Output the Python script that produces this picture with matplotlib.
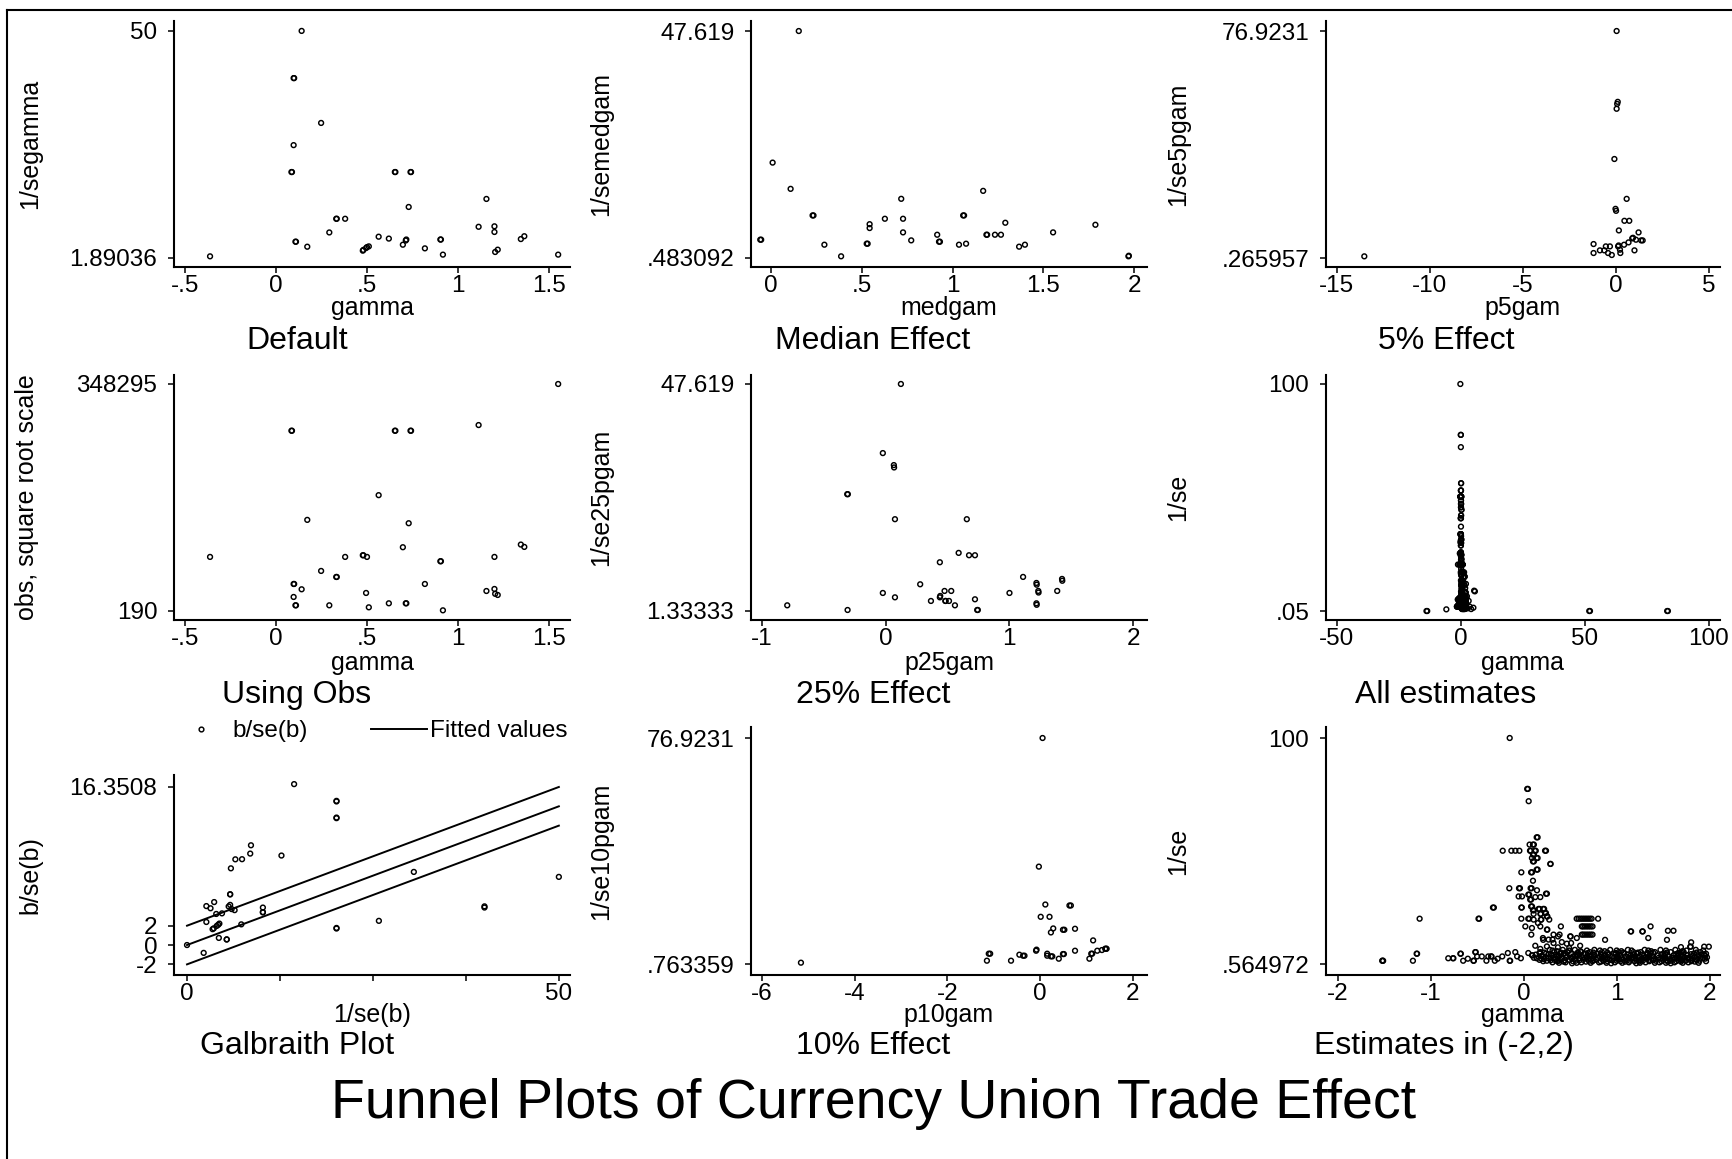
import numpy as np
import matplotlib
matplotlib.use('Agg')
import matplotlib.pyplot as plt
from matplotlib.lines import Line2D

plt.rcParams['font.family'] = ['Liberation Sans', 'DejaVu Sans']

W, H = 1732, 1159  # output size in pixels (dpi 100)

# ---- 43 estimates used by "Default", "Using Obs" and "Galbraith Plot" ----
gamma = [-0.362, 0.141, 0.097, 0.100, 0.248, 0.097, 0.085, 0.088, 0.653, 0.656,
         0.739, 0.742, 0.729, 1.156, 0.331, 0.334, 0.380, 0.293, 0.107, 0.110,
         0.172, 0.477, 0.480, 0.500, 0.510, 0.495, 0.564, 0.620, 0.697, 0.713,
         0.716, 0.818, 0.903, 0.906, 0.917, 1.113, 1.200, 1.200, 1.204, 1.218,
         1.345, 1.364, 1.550]
inv_segamma = [2.24, 50.0, 40.0, 40.0, 30.5, 25.8, 20.1, 20.1, 20.1, 20.1,
               20.1, 20.1, 12.7, 14.4, 10.2, 10.2, 10.2, 7.3, 5.34, 5.34,
               4.28, 3.44, 3.60, 4.20, 4.35, 4.00, 6.4, 6.0, 4.7, 5.6,
               5.8, 3.93, 5.8, 5.8, 2.6, 8.5, 8.6, 7.4, 3.16, 3.65,
               5.9, 6.5, 2.6]
obs = [22830, 4750, 6790, 6790, 13340, 2440, 222300, 222300, 222300, 222300,
       222300, 222300, 56000, 4170, 10040, 10040, 22830, 795, 795, 795,
       60100, 24120, 24120, 22830, 534, 3550, 94800, 1110, 30870, 1110,
       1110, 6790, 19630, 19630, 240, 236100, 22830, 4860, 3300, 2970,
       33300, 31150, 348295]

# Galbraith: extra point at the origin and the fitted line with +/-2 band
gal_extra_x = [0.0]
gal_extra_y = [0.0]
fit_x = [0, 50]
fit_mid = [0, 14.3508]
fit_hi = [2, 16.3508]
fit_lo = [-2, 12.3508]

# ---- Median effect ----
medgam = [-0.059, -0.054, 0.009, 0.153, 0.108, 0.229, 0.234, 0.294, 0.386, 0.527,
          0.532, 0.543, 0.543, 0.627, 0.717, 0.727, 0.727, 0.772, 0.915, 0.925,
          0.930, 1.035, 1.058, 1.063, 1.074, 1.168, 1.186, 1.190, 1.233, 1.266,
          1.290, 1.366, 1.398, 1.553, 1.786, 1.968, 1.970]
inv_semedgam = [4.28, 4.28, 20.29, 47.619, 14.84, 9.32, 9.32, 3.24, 0.83, 3.45,
                3.45, 6.7, 7.5, 8.63, 12.77, 8.63, 5.80, 4.14, 5.31, 3.86,
                3.86, 3.24, 9.32, 9.32, 3.45, 14.42, 5.31, 5.31, 5.31, 5.31,
                7.80, 2.83, 3.24, 5.80, 7.38, 0.83, 0.95]

# ---- 5% effect ----
p5gam = [-13.52, 0.05, 0.11, 0.08, 0.05, -0.07, 0.59, -0.01, 0.02, 0.47,
         0.73, 0.17, 1.23, 0.89, 0.93, 1.09, 1.37, 1.45, 0.69, 0.45,
         -1.19, -1.19, -0.85, -0.53, -0.31, -0.61, -0.41, -0.21, 0.13, 0.16,
         0.23, 0.25, 1.01]
inv_se5pgam = [0.83, 76.9231, 53.0, 52.3, 50.66, 33.7, 20.24, 16.87, 16.2, 12.83,
               12.83, 9.58, 8.91, 6.89, 7.1, 6.44, 6.21, 6.21, 5.54, 4.75,
               4.98, 1.95, 2.85, 4.19, 4.19, 2.85, 1.95, 1.28, 4.19, 4.5,
               3.07, 1.95, 2.85]

# ---- 25% effect ----
p25gam = [-0.796, -0.308, -0.311, -0.306, -0.023, 0.066, 0.068, 0.123, 0.075, 0.656,
          0.590, 0.674, 0.722, 0.438, 0.279, -0.023, 0.075, 0.366, 0.438, 0.441,
          0.476, 0.530, 0.482, 0.485, 0.512, 0.560, 0.722, 0.740, 0.745, 1.001,
          1.111, 1.219, 1.221, 1.234, 1.236, 1.219, 1.221, 1.387, 1.426, 1.428]
inv_se25pgam = [2.49, 1.54, 25.15, 25.15, 33.53, 31.08, 30.6, 47.619, 20.05, 20.05,
                13.18, 12.70, 12.70, 11.27, 6.78, 5.01, 4.12, 3.38, 4.12, 4.4,
                5.42, 5.42, 3.38, 3.38, 3.38, 2.49, 3.72, 1.54, 1.54, 5.01,
                8.28, 7.05, 6.7, 5.42, 5.1, 2.90, 2.6, 5.42, 7.87, 7.5]

# ---- 10% effect ----
p10gam = [-5.16, 0.05, -0.03, 0.11, 0.63, 0.66, 0.01, 0.20, 0.28, 0.23,
          0.49, 0.52, 0.75, 1.14, -1.15, -1.11, -1.08, -0.63, -0.45, -0.37,
          -0.34, -0.09, -0.08, 0.15, 0.15, 0.23, 0.26, 0.40, 0.49, 0.51,
          0.75, 1.06, 1.10, 1.12, 1.23, 1.33, 1.40, 1.42, 1.43]
inv_se10pgam = [1.21, 76.9231, 33.58, 20.81, 20.48, 20.48, 16.67, 16.67, 12.75, 11.40,
                12.3, 12.3, 12.64, 8.72, 1.88, 4.24, 4.24, 1.88, 3.90, 3.56,
                3.56, 5.24, 5.6, 3.56, 4.24, 3.34, 3.34, 2.55, 4.12, 4.12,
                5.24, 2.55, 4.24, 4.24, 5.24, 5.47, 5.91, 5.91, 5.91]

# ---- all estimates: precision level (1/se) and the gammas found at that level ----
funnel_levels = [100.0, 77.6, 72.2, 56.3, 53.1, 50.4, 48.7, 47.2, 45.7, 44.6,
                 42.1, 40.9, 37.2, 33.9, 33.0, 31.5, 31.1, 30.3, 30.0, 28.9,
                 25.9, 25.4, 24.8, 24.2, 23.0, 22.6, 21.5, 20.5, 20.1, 18.6,
                 17.1, 16.4, 15.7, 15.2, 14.9, 13.5, 12.7, 12.0, 11.3, 11.2,
                 10.2, 10.1, 9.8, 9.5, 8.6, 8.3, 8.2, 8.0, 7.9, 7.6, 7.2]
funnel_gammas = [
    [-0.15], [0.038, 0.046], [0.054], [0.14, 0.15], [0.064, 0.10, 0.11],
    [-0.225, -0.132, -0.089, -0.046, 0.068, 0.076, 0.12, 0.13, 0.23, 0.24],
    [0.10, 0.11], [0.089, 0.14, 0.15], [0.10, 0.11], [0.286, 0.29],
    [0.14, 0.15], [-0.025, 0.08, 0.09], [0.10],
    [-0.154, -0.05, -0.04, 0.075, 0.085], [0.143], [0.24, 0.25], [0.05, 0.06],
    [-0.054, -0.018], [0.125, 0.179], [0.07, 0.08],
    [0.08, 0.09], [-0.33, -0.32, -0.025, -0.02], [0.16, 0.17, 0.21, 0.22],
    [0.10, 0.11], [0.23, 0.24], [0.107, 0.18, 0.185], [0.25, 0.255],
    [-1.118, -0.485, -0.478, -0.025, 0.05, 0.06, 0.57, 0.59, 0.61, 0.63,
     0.65, 0.67, 0.69, 0.71, 0.73, 0.80],
    [0.107, 0.185, 0.19, 0.275], [0.154],
    [0.018, 0.179, 0.40, 0.625, 0.64, 0.66, 0.68, 0.70, 0.72, 0.74, 1.364],
    [0.089], [0.25, 0.255], [1.55, 1.61], [1.15, 1.155, 1.275, 1.28],
    [0.082, 0.321, 0.386, 0.625, 0.64, 0.66, 0.68, 0.70, 0.72, 0.74],
    [0.37, 0.50, 0.505], [0.207, 0.571, 1.339], [0.268, 0.31], [0.21, 0.875, 1.54],
    [0.41], [1.80], [0.321, 0.51], [0.464], [0.125, 0.607], [0.25],
    [1.79, 1.795, 1.94, 1.99], [1.69], [0.368], [0.49], [0.179]]

band_levels = [6.8, 6.5, 6.2, 5.8, 5.6, 5.4, 5.1, 4.9, 4.7, 4.4, 4.1, 3.9, 3.5, 3.3,
               3.1, 2.9, 2.7, 2.4, 2.2, 2.0, 1.8, 1.6, 1.3, 1.1, 0.9]
band_gammas = [
    [0.28, 0.42, 0.55, 0.76, 0.93, 1.12, 1.30, 1.47, 1.63, 1.85],
    [0.31, 0.49, 0.68, 0.82, 1.00, 1.16, 1.34, 1.53, 1.75, 1.93],
    [0.36, 0.61, 0.87, 1.05, 1.37, 1.71],
    [-0.52, -0.515, -0.09, 0.18, 0.33, 0.47, 0.62, 0.71, 0.84, 1.02, 1.18, 1.26,
     1.41, 1.58, 1.72, 1.90],
    [0.22, 0.40, 0.58, 0.75, 0.90, 1.07, 1.23, 1.39, 1.54, 1.69, 1.86],
    [-0.17, 0.05, 0.17, 0.44, 0.69, 0.99, 1.33, 1.66],
    [-1.15, -1.145, -0.68, -0.675, 0.24, 0.39, 0.51, 0.66, 0.79, 0.97, 1.08, 1.22,
     1.36, 1.52, 1.67, 1.83, 1.96],
    [0.27, 0.43, 0.60, 0.83, 0.99, 1.18, 1.33, 1.50, 1.64, 1.80, 1.94],
    [0.13, 0.35, 0.57, 0.76, 0.91, 1.12, 1.27, 1.48, 1.69, 1.91],
    [0.09, 0.095, 0.30, 0.45, 0.58, 0.73, 0.88, 1.04, 1.15, 1.29, 1.44, 1.61, 1.76, 1.88],
    [0.19, 0.38, 0.55, 0.70, 0.86, 1.01, 1.20, 1.35, 1.51, 1.66, 1.81, 1.95],
    [-0.50, -0.45, -0.38, -0.35, -0.345, -0.23, -0.07, 0.21, 0.36, 0.53, 0.68, 0.82,
     0.95, 1.10, 1.24, 1.38, 1.55, 1.70, 1.84],
    [0.29, 0.46, 0.63, 0.85, 1.01, 1.17, 1.34, 1.52, 1.73, 1.97],
    [0.11, 0.32, 0.51, 0.66, 0.80, 0.97, 1.13, 1.29, 1.45, 1.60, 1.76, 1.90],
    [-0.81, -0.76, -0.755, -0.03, 0.14, 0.27, 0.41, 0.60, 0.74, 0.90, 1.05, 1.19,
     1.33, 1.49, 1.64, 1.79, 1.93],
    [-0.60, -0.28, 0.19, 0.35, 0.52, 0.69, 0.84, 1.00, 1.16, 1.32, 1.47, 1.62, 1.77, 1.95],
    [0.22, 0.39, 0.55, 0.72, 0.88, 1.03, 1.26, 1.40, 1.57, 1.71, 1.86],
    [0.17, 0.33, 0.49, 0.64, 0.78, 0.92, 1.07, 1.21, 1.35, 1.50, 1.66, 1.81],
    [0.29, 0.44, 0.60, 0.75, 0.95, 1.11, 1.25, 1.39, 1.54, 1.70, 1.86],
    [-1.52, -1.515, -1.51, -1.19, -0.65, -0.54, -0.535, -0.40, -0.31, -0.15, -0.145,
     0.25, 0.38, 0.56, 0.70, 0.86, 1.00, 1.14, 1.28, 1.42, 1.58, 1.74, 1.89],
    [0.21, 0.36, 0.53, 0.74, 0.90, 1.04, 1.19, 1.35, 1.48, 1.64, 1.80, 1.96],
    [0.43, 0.67, 0.83, 1.09, 1.24, 1.55, 1.69, 1.84],
    [0.31, 0.45, 0.62, 0.81, 0.98, 1.13, 1.31, 1.46, 1.62, 1.77],
    [0.38, 0.57, 0.72, 0.89, 1.06, 1.25, 1.41, 1.53, 1.71, 1.88],
    [0.52, 0.94, 1.21, 1.58]]

# estimates outside (-2, 2)
far_gamma = [-13.8, -13.5, -5.8, 5.4, 5.7, 5.1, 2.3, 2.7, 3.2, 2.5, 3.6, 4.2, 2.1,
             51.8, 52.1, 83.2, 83.5]
far_invse = [0.05, 0.05, 0.78, 9.0, 8.7, 1.5, 3.0, 1.2, 4.5, 6.5, 2.0, 0.9, 12.0,
             0.05, 0.05, 0.05, 0.05]

est_gamma, est_invse = [], []
for lev, gs in zip(funnel_levels + band_levels, funnel_gammas + band_gammas):
    est_gamma += gs
    est_invse += [lev] * len(gs)
all_gamma = np.array(est_gamma + far_gamma)
all_invse = np.array(est_invse + far_invse)
inside = (all_gamma > -2) & (all_gamma < 2)

# ---------------------------------------------------------------------------
fig = plt.figure(figsize=(W / 100, H / 100), dpi=100)
fig.patch.set_facecolor('white')

MS = 12      # marker area
MLW = 1.05   # marker edge width
LAB = 18     # axis title size
SUB = 23     # panel title size


def add_panel(box, xlim, ylim, xt, xtl, yt, ytl):
    x0, x1, y0, y1 = box
    ax = fig.add_axes([x0 / W, 1 - y1 / H, (x1 - x0) / W, (y1 - y0) / H])
    ax.set_xlim(xlim)
    ax.set_ylim(ylim)
    ax.patch.set_alpha(0)
    for s in ['top', 'right']:
        ax.spines[s].set_visible(False)
    for s in ['left', 'bottom']:
        ax.spines[s].set_linewidth(1.5)
    ax.set_xticks(xt, xtl)
    ax.set_yticks(yt, ytl)
    ax.tick_params(length=4, width=1.1, labelsize=17.5, direction='out')
    ax.tick_params(axis='x', pad=1.5)
    ax.tick_params(axis='y', pad=8)
    return ax


def labels(box, xlab, ylab, title, xl_base, yl_base, t_x, t_base):
    x0, x1, y0, y1 = box
    fig.text((x0 + x1) / 2 / W, 1 - xl_base / H, xlab, ha='center', va='baseline', fontsize=LAB)
    fig.text(yl_base / W, 1 - (y0 + y1) / 2 / H, ylab, rotation=90, rotation_mode='anchor',
             ha='center', va='baseline', fontsize=LAB)
    fig.text(t_x / W, 1 - t_base / H, title, ha='center', va='baseline', fontsize=SUB)


def dots(ax, x, y):
    ax.scatter(x, y, s=MS, facecolors='none', edgecolors='black', linewidths=MLW, clip_on=False)


# Default
b = (174, 570, 21, 267)
ax = add_panel(b, (-0.56, 1.615), (-0.02, 52.1), [-0.5, 0, 0.5, 1, 1.5],
               ['-.5', '0', '.5', '1', '1.5'], [1.89036, 50], ['1.89036', '50'])
dots(ax, gamma, inv_segamma)
labels(b, 'gamma', '1/segamma', 'Default', 315, 37, 297, 349)

# Median Effect
b = (751, 1147, 21, 267)
ax = add_panel(b, (-0.11, 2.07), (-1.39, 49.70), [0, 0.5, 1, 1.5, 2],
               ['0', '.5', '1', '1.5', '2'], [0.483092, 47.619], ['.483092', '47.619'])
dots(ax, medgam, inv_semedgam)
labels(b, 'medgam', '1/semedgam', 'Median Effect', 315, 608, 873, 349)

# 5% Effect
b = (1326, 1720, 21, 267)
ax = add_panel(b, (-15.58, 5.61), (-2.77, 80.3), [-15, -10, -5, 0, 5],
               ['-15', '-10', '-5', '0', '5'], [0.265957, 76.9231], ['.265957', '76.9231'])
dots(ax, p5gam, inv_se5pgam)
labels(b, 'p5gam', '1/se5pgam', '5% Effect', 315, 1185, 1446, 349)

# Using Obs (square root scale)
b = (174, 570, 375, 620)
ax = add_panel(b, (-0.56, 1.615), (-9.07, 613.0), [-0.5, 0, 0.5, 1, 1.5],
               ['-.5', '0', '.5', '1', '1.5'], np.sqrt([190, 348295]), ['190', '348295'])
dots(ax, gamma, np.sqrt(obs))
labels(b, 'gamma', 'obs, square root scale', 'Using Obs', 670, 34, 297, 703)

# 25% Effect
b = (751, 1147, 375, 620)
ax = add_panel(b, (-1.089, 2.113), (-0.502, 49.45), [-1, 0, 1, 2],
               ['-1', '0', '1', '2'], [1.33333, 47.619], ['1.33333', '47.619'])
dots(ax, p25gam, inv_se25pgam)
labels(b, 'p25gam', '1/se25pgam', '25% Effect', 670, 608, 873, 703)

# All estimates
b = (1326, 1720, 375, 620)
ax = add_panel(b, (-54.3, 104.5), (-3.91, 103.96), [-50, 0, 50, 100],
               ['-50', '0', '50', '100'], [0.05, 100], ['.05', '100'])
dots(ax, all_gamma, all_invse)
labels(b, 'gamma', '1/se', 'All estimates', 670, 1185, 1446, 703)

# Galbraith Plot
b = (174, 570, 775, 975)
ax = add_panel(b, (-1.75, 51.5), (-3.10, 17.59), [0, 12.5, 25, 37.5, 50],
               ['0', '', '', '', '50'], [-2, 0, 2, 16.3508], ['-2', '0', '2', '16.3508'])
gal_y = np.array(gamma) * np.array(inv_segamma)
dots(ax, list(inv_segamma) + gal_extra_x, list(gal_y) + gal_extra_y)
for fy in (fit_hi, fit_mid, fit_lo):
    ax.plot(fit_x, fy, color='black', lw=1.4)
labels(b, '1/se(b)', 'b/se(b)', 'Galbraith Plot', 1022, 37, 297, 1054)
h_pts = Line2D([], [], ls='none', marker='o', mfc='none', mec='black', ms=3.4, mew=MLW)
h_fit = Line2D([], [], color='black', lw=1.4)
ax.legend([h_pts, h_fit], ['b/se(b)', 'Fitted values'], ncol=2, frameon=False,
          loc='center left', bbox_to_anchor=(173 / W, 1 - 731 / H),
          bbox_transform=fig.transFigure, fontsize=17.5, handlelength=2.3,
          handletextpad=0.13, columnspacing=2.6, borderpad=0, borderaxespad=0)

# 10% Effect
b = (751, 1147, 727, 975)
ax = add_panel(b, (-6.237, 2.302), (-2.94, 80.63), [-6, -4, -2, 0, 2],
               ['-6', '-4', '-2', '0', '2'], [0.763359, 76.9231], ['.763359', '76.9231'])
dots(ax, p10gam, inv_se10pgam)
labels(b, 'p10gam', '1/se10pgam', '10% Effect', 1022, 608, 873, 1054)

# Estimates in (-2,2)
b = (1326, 1720, 727, 975)
ax = add_panel(b, (-2.124, 2.11), (-4.27, 104.84), [-2, -1, 0, 1, 2],
               ['-2', '-1', '0', '1', '2'], [0.564972, 100], ['.564972', '100'])
dots(ax, all_gamma[inside], all_invse[inside])
labels(b, 'gamma', '1/se', 'Estimates in (-2,2)', 1022, 1185, 1444, 1054)

# overall title and outer frame
fig.text(874 / W, 1 - 1118 / H, 'Funnel Plots of Currency Union Trade Effect',
         ha='center', va='baseline', fontsize=40)
fig.add_artist(Line2D([7 / W, 7 / W], [0, 1 - 10 / H], color='black', lw=1.5))
fig.add_artist(Line2D([7 / W, 1], [1 - 10 / H, 1 - 10 / H], color='black', lw=1.5))

fig.savefig('out.png', dpi=100, facecolor='white')
